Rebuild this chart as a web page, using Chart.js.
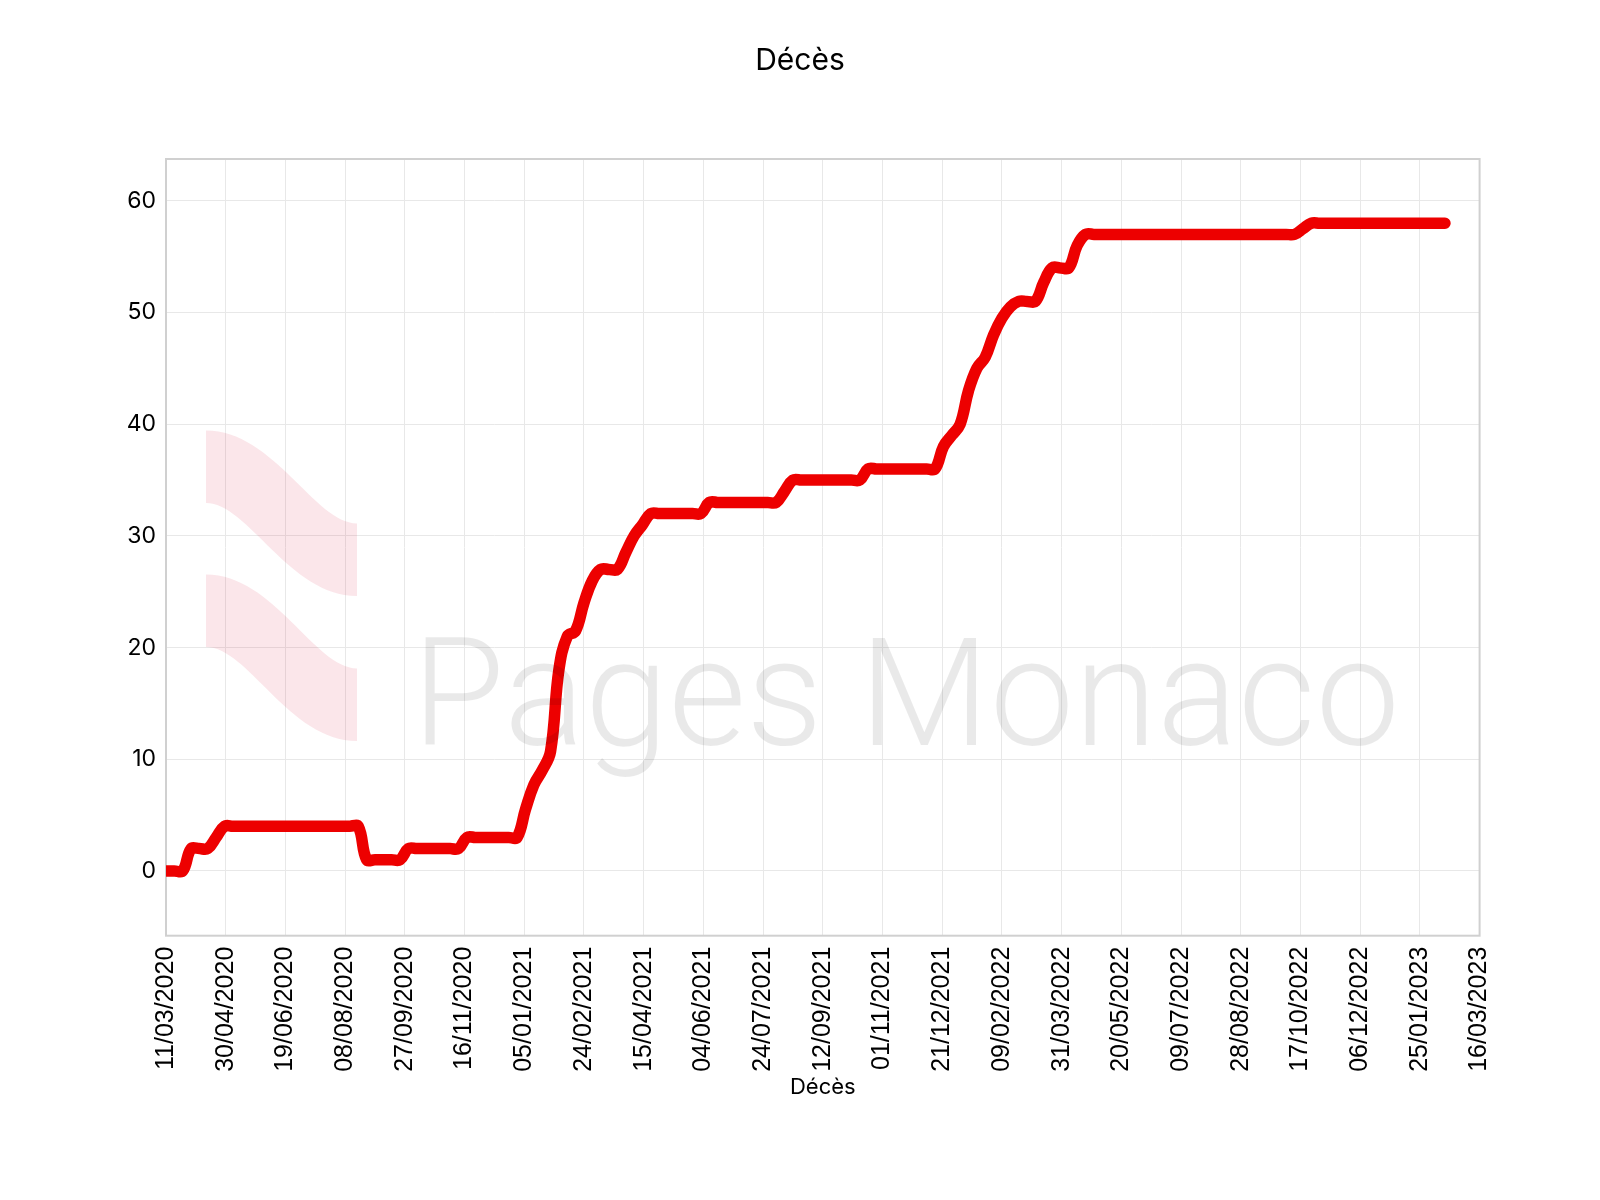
<!DOCTYPE html>
<html>
<head>
<meta charset="utf-8">
<script src="https://cdn.jsdelivr.net/npm/chart.js@4.4.1/dist/chart.umd.min.js"></script>
<style>
html,body{margin:0;padding:0;background:#ffffff;}
#wrap{width:1600px;height:1200px;}
</style>
</head>
<body>
<div id="wrap"><canvas id="c" width="1600" height="1200"></canvas></div>
<script>
// ---- data ----
const chartTitle = 'Décès';
const xAxisTitle = 'Décès';
const startDate = [2020, 3, 11];      // first observation (11/03/2020)
const stepDays = 7;                    // weekly observations
const xTickStepDays = 50;
const xRangeDays = [0, 1100];          // 11/03/2020 .. 16/03/2023
const yRange = [-5.8, 63.75];
const yTickStep = 10;
const deaths = [
  0, 0, 0, 2, 2, 2, 3, 4, 4, 4,
  4, 4, 4, 4, 4, 4, 4, 4, 4, 4,
  4, 4, 4, 4, 1, 1, 1, 1, 1, 2,
  2, 2, 2, 2, 2, 2, 3, 3, 3, 3,
  3, 3, 3, 5.5, 7.7, 9, 10.7, 18, 21, 21.5,
  24, 26, 27, 27, 27, 28.5, 30, 31, 32, 32,
  32, 32, 32, 32, 32, 33, 33, 33, 33, 33,
  33, 33, 33, 33, 34, 35, 35, 35, 35, 35,
  35, 35, 35, 35, 36, 36, 36, 36, 36, 36,
  36, 36, 36, 38, 39, 40, 43, 45, 46, 48,
  49.5, 50.5, 51, 51, 51, 52.7, 54, 54, 54, 56,
  57, 57, 57, 57, 57, 57, 57, 57, 57, 57,
  57, 57, 57, 57, 57, 57, 57, 57, 57, 57,
  57, 57, 57, 57, 57, 57, 57.5, 58, 58, 58,
  58, 58, 58, 58, 58, 58, 58, 58, 58, 58,
  58, 58, 58, 58
];
const watermarkText = 'Pages Monaco';

// ---- helpers ----
const DAY = 86400000;
const t0 = Date.UTC(startDate[0], startDate[1] - 1, startDate[2]);
function fmtDay(d) {
  const dt = new Date(t0 + d * DAY);
  const dd = String(dt.getUTCDate()).padStart(2, '0');
  const mm = String(dt.getUTCMonth() + 1).padStart(2, '0');
  return dd + '/' + mm + '/' + dt.getUTCFullYear();
}
const points = deaths.map((v, i) => ({ x: i * stepDays, y: v }));

const frame = {
  id: 'frame',
  beforeDatasetsDraw(chart) {
    const { ctx, chartArea: a } = chart;
    ctx.save();
    ctx.strokeStyle = '#d0d0d0';
    ctx.lineWidth = 2;
    ctx.strokeRect(a.left, a.top, a.right - a.left, a.bottom - a.top);
    ctx.restore();
  }
};

const watermark = {
  id: 'watermark',
  afterDatasetsDraw(chart) {
    const { ctx } = chart;
    ctx.save();
    // logo ribbons
    ctx.fillStyle = 'rgba(222, 30, 60, 0.11)';
    const L = 206, R = 357, w = R - L;
    const ribbons = [[430.6, 503, 523.5, 596], [574.5, 647, 668.4, 741]];
    ribbons.forEach(([tl, bl, tr, br]) => {
      ctx.beginPath();
      ctx.moveTo(L, tl);
      ctx.bezierCurveTo(L + 0.45 * w, tl, L + 0.72 * w, tr, R, tr);
      ctx.lineTo(R, br);
      ctx.bezierCurveTo(L + 0.55 * w, br, L + 0.28 * w, bl, L, bl);
      ctx.closePath();
      ctx.fill();
    });
    // text
    ctx.fillStyle = 'rgba(0,0,0,0.085)';
    ctx.textBaseline = 'alphabetic';
    ctx.textAlign = 'left';
    let size = 160;
    ctx.font = '300 ' + size + 'px Roboto';
    const mw = ctx.measureText(watermarkText).width;
    size = size * 988 / mw;
    ctx.font = '300 ' + size + 'px Roboto';
    ctx.fillText(watermarkText, 412, 745);
    ctx.restore();
  }
};

new Chart(document.getElementById('c'), {
  type: 'line',
  data: {
    datasets: [{
      label: chartTitle,
      data: points,
      borderColor: 'rgb(237,0,0)',
      backgroundColor: 'rgb(237,0,0)',
      borderWidth: 11.5,
      borderCapStyle: 'round',
      borderJoinStyle: 'round',
      pointRadius: 0,
      pointHoverRadius: 0,
      tension: 0.4,
      fill: false
    }]
  },
  options: {
    responsive: false,
    animation: false,
    devicePixelRatio: 1,
    layout: { padding: 0 },
    plugins: {
      legend: { display: false },
      tooltip: { enabled: false },
      title: {
        display: true,
        text: chartTitle,
        color: '#000',
        font: { family: 'Inter', size: 30, weight: 'normal' },
        padding: { top: 43, bottom: 80 }
      }
    },
    scales: {
      x: {
        type: 'linear',
        min: xRangeDays[0],
        max: xRangeDays[1],
        afterFit(s) { s.height = 264.3; },
        afterBuildTicks(s) {
          const t = [];
          for (let v = xRangeDays[0]; v <= xRangeDays[1]; v += xTickStepDays) t.push({ value: v });
          s.ticks = t;
        },
        ticks: {
          autoSkip: false,
          minRotation: 90,
          maxRotation: 90,
          padding: 11,
          color: '#000',
          font: { family: 'Liberation Sans', size: 25 },
          callback: (v) => fmtDay(v)
        },
        grid: { color: '#e8e8e8', lineWidth: 1, drawTicks: false },
        border: { display: false },
        title: {
          display: true,
          text: xAxisTitle,
          color: '#000',
          font: { family: 'Inter', size: 22, weight: 'normal' },
          padding: { top: 0, bottom: 99.8 }
        }
      },
      y: {
        type: 'linear',
        min: yRange[0],
        max: yRange[1],
        afterFit(s) { s.width = 166; },
        ticks: {
          stepSize: yTickStep,
          includeBounds: false,
          padding: 10,
          color: '#000',
          font: { family: 'Inter', size: 23 }
        },
        grid: { color: '#e8e8e8', lineWidth: 1, drawTicks: false },
        border: { display: false }
      },
      yRight: {
        type: 'linear',
        position: 'right',
        display: true,
        afterFit(s) { s.width = 120.4; },
        ticks: { display: false },
        grid: { display: false, drawOnChartArea: false },
        border: { display: false }
      }
    }
  },
  plugins: [frame, watermark]
});
</script>
</body>
</html>
